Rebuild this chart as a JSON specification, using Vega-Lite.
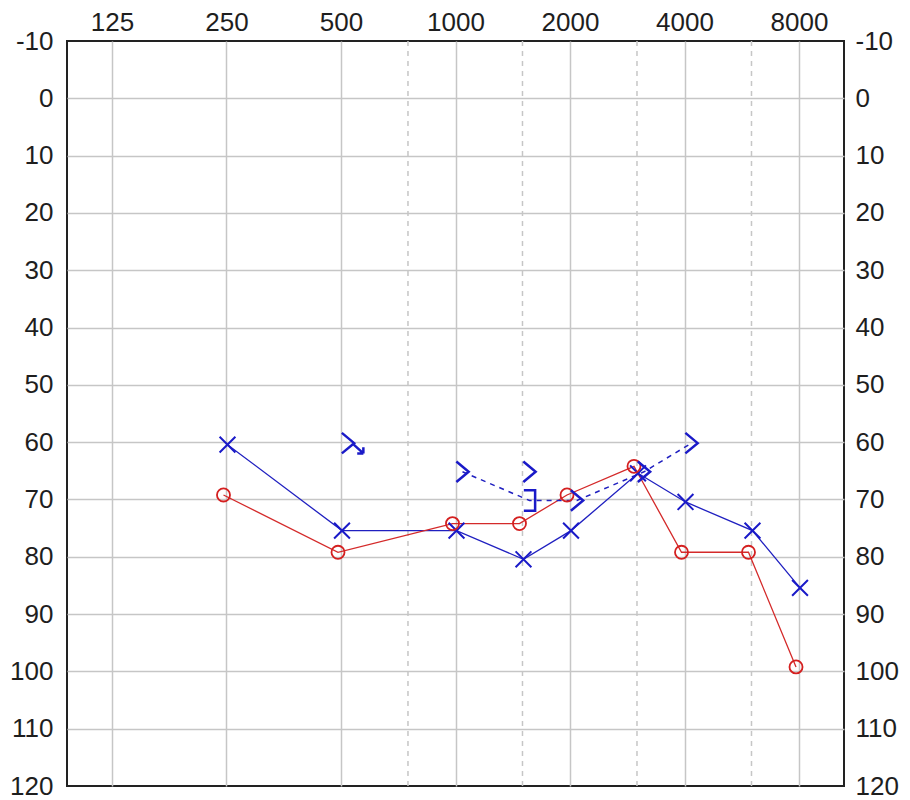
{
  "$schema": "https://vega.github.io/schema/vega-lite/v6.json",
  "width": 777,
  "height": 745,
  "autosize": "none",
  "padding": {"left": 67, "top": 41, "right": 66, "bottom": 14},
  "background": "white",
  "config": {
    "view": {"stroke": "#222222", "strokeWidth": 2},
    "axis": {
      "labelFont": "Liberation Sans",
      "labelFontSize": 26,
      "labelColor": "#1e1e1e",
      "ticks": false,
      "tickSize": 0,
      "domain": false,
      "title": null,
      "gridColor": "#c6c6c6",
      "gridWidth": 1.5,
      "labelFlush": false,
      "labelExpr": "'' + datum.value"
    }
  },
  "datasets": {
    "air": [
      {"ear": "L", "freq": 250, "db": 60},
      {"ear": "L", "freq": 500, "db": 75},
      {"ear": "L", "freq": 1000, "db": 75},
      {"ear": "L", "freq": 1500, "db": 80},
      {"ear": "L", "freq": 2000, "db": 75},
      {"ear": "L", "freq": 3000, "db": 65},
      {"ear": "L", "freq": 4000, "db": 70},
      {"ear": "L", "freq": 6000, "db": 75},
      {"ear": "L", "freq": 8000, "db": 85},
      {"ear": "R", "freq": 250, "db": 70},
      {"ear": "R", "freq": 500, "db": 80},
      {"ear": "R", "freq": 1000, "db": 75},
      {"ear": "R", "freq": 1500, "db": 75},
      {"ear": "R", "freq": 2000, "db": 70},
      {"ear": "R", "freq": 3000, "db": 65},
      {"ear": "R", "freq": 4000, "db": 80},
      {"ear": "R", "freq": 6000, "db": 80},
      {"ear": "R", "freq": 8000, "db": 100}
    ],
    "bone": [
      {"freq": 500, "db": 60, "sym": "gtnr", "conn": false},
      {"freq": 1000, "db": 65, "sym": "gt", "conn": true},
      {"freq": 1500, "db": 65, "sym": "gt", "conn": false},
      {"freq": 1500, "db": 70, "sym": "bracket", "conn": true},
      {"freq": 2000, "db": 70, "sym": "gt", "conn": true},
      {"freq": 3000, "db": 65, "sym": "gt", "conn": true},
      {"freq": 4000, "db": 60, "sym": "gt", "conn": true}
    ],
    "minor": [
      {"freq": 750},
      {"freq": 1500},
      {"freq": 3000},
      {"freq": 6000}
    ]
  },
  "encoding": {
    "x": {
      "field": "freq",
      "type": "quantitative",
      "scale": {"type": "log", "domain": [95.2, 10504], "nice": false},
      "axis": {
        "orient": "top",
        "values": [125, 250, 500, 1000, 2000, 4000, 8000],
        "grid": true,
        "labelPadding": 11,
        "labelBaseline": "alphabetic"
      }
    }
  },
  "layer": [
    {
      "data": {"name": "minor"},
      "mark": {"type": "rule", "color": "#c6c6c6", "strokeWidth": 1.5, "strokeDash": [5, 5]},
      "encoding": {}
    },
    {
      "data": {"name": "air"},
      "mark": {"type": "point", "opacity": 0},
      "encoding": {
        "y": {
          "field": "db", "type": "quantitative",
          "scale": {"domain": [-10, 120], "reverse": true, "nice": false, "zero": false},
          "axis": {"orient": "left", "values": [0, 10, 20, 30, 40, 50, 60, 70, 80, 90, 100, 110], "labels": false, "grid": true}
        }
      }
    },
    {
      "data": {"name": "air"},
      "mark": {"type": "point", "opacity": 0},
      "encoding": {
        "y": {
          "field": "db", "type": "quantitative",
          "scale": {"domain": [-10, 120], "reverse": true, "nice": false, "zero": false},
          "axis": {"orient": "left", "values": [-10, 0, 10, 20, 30, 40, 50, 60, 70, 80, 90, 100, 110, 120], "grid": false, "labelPadding": 14}
        }
      }
    },
    {
      "data": {"name": "air"},
      "mark": {"type": "point", "opacity": 0},
      "encoding": {
        "y": {
          "field": "db", "type": "quantitative",
          "scale": {"domain": [-10, 120], "reverse": true, "nice": false, "zero": false},
          "axis": {"orient": "right", "values": [-10, 0, 10, 20, 30, 40, 50, 60, 70, 80, 90, 100, 110, 120], "grid": false, "labelPadding": 11}
        }
      }
    },
    {
      "data": {"name": "air"},
      "transform": [{"filter": "datum.ear === 'L'"}],
      "mark": {"type": "line", "color": "#2020c0", "strokeWidth": 1.3, "xOffset": 1, "yOffset": 2.5},
      "encoding": {
        "y": {"field": "db", "type": "quantitative", "scale": {"domain": [-10, 120], "reverse": true, "nice": false, "zero": false}, "axis": null}
      }
    },
    {
      "data": {"name": "air"},
      "transform": [{"filter": "datum.ear === 'R'"}],
      "mark": {"type": "line", "color": "#d42a2a", "strokeWidth": 1.3, "xOffset": -3, "yOffset": -4.5},
      "encoding": {
        "y": {"field": "db", "type": "quantitative", "scale": {"domain": [-10, 120], "reverse": true, "nice": false, "zero": false}, "axis": null}
      }
    },
    {
      "data": {"name": "bone"},
      "transform": [{"filter": "datum.conn"}],
      "mark": {"type": "line", "color": "#2020c0", "strokeWidth": 1.5, "strokeDash": [5, 5], "xOffset": 7, "yOffset": 1},
      "encoding": {
        "y": {"field": "db", "type": "quantitative", "scale": {"domain": [-10, 120], "reverse": true, "nice": false, "zero": false}, "axis": null}
      }
    },
    {
      "data": {"name": "air"},
      "transform": [{"filter": "datum.ear === 'L'"}],
      "mark": {"type": "point", "shape": "M -1 -1 L 1 1 M -1 1 L 1 -1", "size": 250, "filled": false, "color": "#1a1ac8", "strokeWidth": 2, "opacity": 1, "xOffset": 1, "yOffset": 2.5},
      "encoding": {
        "y": {"field": "db", "type": "quantitative", "scale": {"domain": [-10, 120], "reverse": true, "nice": false, "zero": false}, "axis": null}
      }
    },
    {
      "data": {"name": "air"},
      "transform": [{"filter": "datum.ear === 'R'"}],
      "mark": {"type": "point", "shape": "circle", "size": 170, "filled": false, "color": "#d42020", "strokeWidth": 1.8, "opacity": 1, "xOffset": -3, "yOffset": -4.5},
      "encoding": {
        "y": {"field": "db", "type": "quantitative", "scale": {"domain": [-10, 120], "reverse": true, "nice": false, "zero": false}, "axis": null}
      }
    },
    {
      "data": {"name": "bone"},
      "mark": {"type": "point", "size": 420, "filled": false, "color": "#1a1ac8", "strokeWidth": 2.5, "opacity": 1, "xOffset": 7, "yOffset": 1},
      "encoding": {
        "y": {"field": "db", "type": "quantitative", "scale": {"domain": [-10, 120], "reverse": true, "nice": false, "zero": false}, "axis": null},
        "shape": {
          "field": "sym",
          "type": "nominal",
          "legend": null,
          "scale": {
            "domain": ["gt", "gtnr", "bracket"],
            "range": [
              "M -0.6 -1 L 0.6 0 L -0.6 1",
              "M -0.6 -1 L 0.6 0 L -0.6 1 M 0.4 0 L 1.5 1 M 1.5 1 L 0.9 1 M 1.5 1 L 1.5 0.4",
              "M -0.55 -1 L 0.55 -1 L 0.55 1 L -0.55 1"
            ]
          }
        }
      }
    }
  ],
  "resolve": {"axis": {"y": "independent"}}
}
